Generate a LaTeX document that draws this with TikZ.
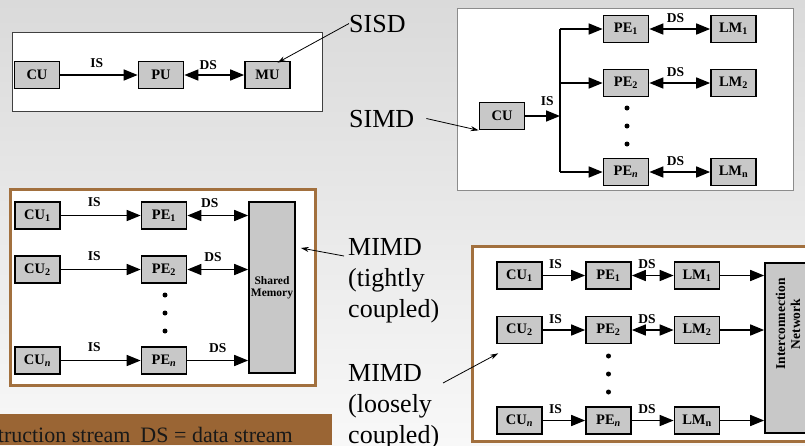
\documentclass[tikz,border=0pt]{standalone}
\usepackage{fontspec}
\setmainfont{Liberation Serif}
\usetikzlibrary{arrows.meta}
\definecolor{bgtop}{RGB}{218,218,218}
\definecolor{bgbot}{RGB}{248,248,248}
\definecolor{blkgray}{RGB}{200,200,200}
\definecolor{mbrown}{RGB}{162,112,62}
\definecolor{legbrown}{RGB}{154,101,52}
\tikzset{
  blk/.style={draw,line width=1.7pt,fill=blkgray,minimum width=45pt,minimum height=27pt,inner sep=0pt,font=\bfseries\fontsize{14.5}{16}\selectfont},
  flow/.style={line width=1.6pt,-{Triangle[length=14pt,width=11pt]}},
  dflow/.style={line width=1.6pt,{Triangle[length=14pt,width=11pt]}-{Triangle[length=14pt,width=11pt]}},
  lbl/.style={font=\bfseries\fontsize{13.5}{14}\selectfont,inner sep=1pt},
  lead/.style={line width=0.8pt,-{Stealth[length=8pt,width=5pt]}},
  tag/.style={font=\fontsize{26}{31}\selectfont,align=left,inner sep=0pt},
  sframe/.style={draw=black!75,fill=white,line width=0.9pt},
  pframe/.style={draw=black!45,fill=white,line width=0.8pt},
  mframe/.style={draw=mbrown,fill=white,line width=3pt}
}
\begin{document}
\begin{tikzpicture}[x=1pt,y=-1pt]
 \useasboundingbox (0,0) rectangle (805,445);
 \clip (0,0) rectangle (805,445);
 \shade[top color=bgtop,bottom color=bgbot] (0,0) rectangle (805,445);
 % SISD
 \draw[sframe] (12,32) rectangle (322,111);
 \node[blk] (cu) at (37,75) {CU};
 \node[blk] (pu) at (161,75) {PU};
 \node[blk] (mu) at (267.5,75) {MU};
 \draw[flow] (cu) -- node[lbl,above=6pt,pos=0.47] {IS} (pu);
 \draw[dflow] (pu) -- node[lbl,above=4pt,pos=0.4] {DS} (mu);
 \node[tag,anchor=base west] (sisd) at (349,32) {SISD};
 \draw[lead] (sisd.west) -- ([xshift=10pt,yshift=-2pt]mu.north);
 % SIMD
 \draw[pframe] (457,8) rectangle (793,190);
 \node[blk] (scu) at (502,116) {CU};
 \coordinate (bus) at (560,116);
 \foreach \i/\y/\s/\t in {1/29/1/1,2/83/2/2,n/172/\textit{n}/n} {
   \node[blk] (spe\i) at (626,\y) {PE\textsubscript{\s}};
   \node[blk] (slm\i) at (733.5,\y) {LM\textsubscript{\t}};
   \draw[flow] (bus |- spe\i) -- (spe\i);
   \draw[dflow] (spe\i) -- node[lbl,above=5pt,pos=0.43] {DS} (slm\i);
 }
 \draw[flow] (scu) -- node[lbl,above=9pt,pos=0.63] {IS} (bus);
 \draw[line width=1.6pt] (bus |- spe1) -- (bus |- spen);
 \foreach \y in {108,126,144} \fill (627,\y) circle (2.5pt);
 \node[tag,anchor=base west] (simd) at (349,127) {SIMD};
 \draw[lead] ([xshift=12pt]simd.east) -- (scu.south west);
 % MIMD, tightly coupled
 \draw[mframe] (10.5,189.5) rectangle (315.5,385.5);
 \node[blk,minimum width=46pt,minimum height=171pt,align=center,font=\bfseries\fontsize{11.5}{12.5}\selectfont] (sm) at (272,287.5) {Shared\\Memory};
 \foreach \i/\y/\s in {1/215.5/1,2/269.5/2,n/360.5/\textit{n}} {
   \node[blk] (tcu\i) at (37.5,\y) {CU\textsubscript{\s}};
   \node[blk] (tpe\i) at (164,\y) {PE\textsubscript{\s}};
   \draw[flow] (tcu\i) -- node[lbl,above=7pt,pos=0.42] {IS} (tpe\i);
 }
 \draw[dflow] (tpe1) -- node[lbl,above=6pt,pos=0.37] {DS} (tpe1 -| sm.west);
 \draw[dflow] (tpe2) -- node[lbl,above=6pt,pos=0.42] {DS} (tpe2 -| sm.west);
 \draw[flow] (tpen) -- node[lbl,above=6pt,pos=0.5] {DS} (tpen -| sm.west);
 \foreach \y in {295,313,331} \fill (165,\y) circle (2.5pt);
 \node[tag,anchor=north west] (tight) at (348,238) {MIMD\\(tightly\\coupled)};
 \draw[lead] ([yshift=-18pt,xshift=-4pt]tight.north west) -- ([xshift=5pt,yshift=39.5pt]sm.east);
 % MIMD, loosely coupled
 \draw[mframe] (472.5,246.5) rectangle (830,441.5);
 \node[blk,minimum width=46pt,minimum height=170pt] (inet) at (788,348) {};
 \node[rotate=90,align=center,inner sep=0pt,font=\bfseries\fontsize{13.5}{15}\selectfont] (inettext) at (788,324) {Interconnection\\Network};
 \foreach \i/\y/\s/\t in {1/275.5/1/1,2/330/2/2,n/420.5/\textit{n}/n} {
   \node[blk] (lcu\i) at (519.5,\y) {CU\textsubscript{\s}};
   \node[blk] (lpe\i) at (608.5,\y) {PE\textsubscript{\s}};
   \node[blk] (llm\i) at (697,\y) {LM\textsubscript{\t}};
   \draw[flow] (lcu\i) -- node[lbl,above=5pt,pos=0.3] {IS} (lpe\i);
   \draw[flow] (llm\i) -- (llm\i -| inet.west);
 }
 \draw[dflow] (lpe1) -- node[lbl,above=5pt,pos=0.36] {DS} (llm1);
 \draw[dflow] (lpe2) -- node[lbl,above=5pt,pos=0.36] {DS} (llm2);
 \draw[flow] (lpen) -- node[lbl,above=5pt,pos=0.36] {DS} (llmn);
 \foreach \y in {356,374,392} \fill (608.5,\y) circle (2.5pt);
 \node[tag,anchor=north west] (loose) at (348,364) {MIMD\\(loosely\\coupled)};
 \draw[lead] ([xshift=95pt,yshift=-19pt]loose.north west) -- ([xshift=2pt,yshift=-9pt]lcu2.south west);
 % legend
 \fill[legbrown] (0,414) rectangle (332,445);
 \begin{scope}
  \clip (0,414) rectangle (332,445);
  \node[anchor=base east,inner sep=0pt,text=black!90,font=\fontsize{22}{24}\selectfont] (legend) at (293,442) {IS = instruction stream\hspace{10pt}DS = data stream};
 \end{scope}
\end{tikzpicture}
\end{document}
